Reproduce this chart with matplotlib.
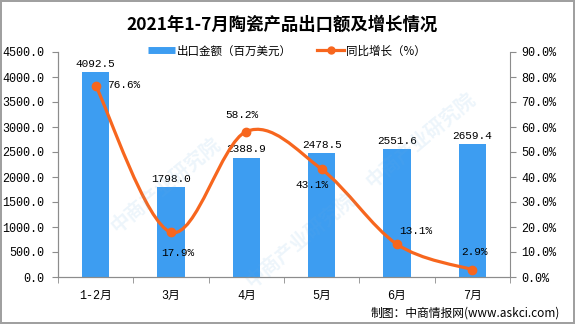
import numpy as np
import matplotlib
matplotlib.use("Agg")
import matplotlib.pyplot as plt
from matplotlib.path import Path
from matplotlib.patches import PathPatch
from matplotlib.lines import Line2D

# data
months = ['1-2月', '3月', '4月', '5月', '6月', '7月']
export_value = [4092.5, 1798.0, 2388.9, 2478.5, 2551.6, 2659.4]   # 百万美元
growth_rate = [76.6, 17.9, 58.2, 43.1, 13.1, 2.9]                 # %
left_ticks = [0, 500, 1000, 1500, 2000, 2500, 3000, 3500, 4000, 4500]
right_ticks = [0, 10, 20, 30, 40, 50, 60, 70, 80, 90]

# label offsets (points) for the growth labels
growth_offsets = [(8, 0.5, 'left'), (4.5, -15, 'center'), (-3, 12, 'center'),
                  (-7, -11.5, 'center'), (1.5, 9.5, 'left'), (1.5, 13, 'center')]

bar_color = '#3D9DF1'
line_color = '#F7661E'
axis_color = '#8C8C8C'

plt.rcParams['font.family'] = ['Liberation Mono', 'Noto Sans CJK SC', 'DejaVu Sans']
cjk = ['Noto Sans CJK SC', 'DejaVu Sans']

fig = plt.figure(figsize=(5.75, 3.24), dpi=100)
fig.patch.set_edgecolor('#A0A0A0')
fig.patch.set_linewidth(1.5)

ax = fig.add_axes([58 / 575, 47 / 324, 452 / 575, 225 / 324])
x = np.arange(len(months))
ax.bar(x, export_value, width=0.36, color=bar_color, zorder=2)
ax.set_xlim(-0.5, len(months) - 0.5)
ax.set_ylim(0, 4500)
ax.set_yticks(left_ticks)
ax.set_yticklabels([f'{v:.1f}' for v in left_ticks])
ax.set_xticks(x)
ax.set_xticklabels(months)
ax.set_xticks(np.arange(len(months) + 1) - 0.5, minor=True)
ax.tick_params(axis='x', which='major', length=0, pad=9, labelsize=8.5)
ax.tick_params(axis='x', which='minor', length=4, color=axis_color)
ax.tick_params(axis='y', length=4, pad=6, color=axis_color, labelsize=8.5)

for v, xi in zip(export_value, x):
    ax.annotate(f'{v:.1f}', (xi, v), xytext=(0, 2.5), textcoords='offset points',
                ha='center', va='bottom', fontsize=8)

ax2 = ax.twinx()
ax2.set_ylim(0, 90)
ax2.set_yticks(right_ticks)
ax2.set_yticklabels([f'{v:.1f}%' for v in right_ticks])
ax2.tick_params(axis='y', length=4, pad=4, color=axis_color, labelsize=8.5)

for a in (ax, ax2):
    a.spines['top'].set_visible(False)
    for s in ('left', 'right', 'bottom'):
        a.spines[s].set_color(axis_color)
ax.spines['right'].set_visible(False)

# smoothed line through the points (Catmull-Rom as cubic Bezier)
pts = np.column_stack([x, growth_rate]).astype(float)
ext = np.vstack([pts[0], pts, pts[-1]])
verts = [tuple(pts[0])]
codes = [Path.MOVETO]
for i in range(len(pts) - 1):
    p0, p1, p2, p3 = ext[i], ext[i + 1], ext[i + 2], ext[i + 3]
    verts += [tuple(p1 + (p2 - p0) / 6), tuple(p2 - (p3 - p1) / 6), tuple(p2)]
    codes += [Path.CURVE4] * 3
ax2.add_patch(PathPatch(Path(verts, codes), facecolor='none', edgecolor=line_color,
                        lw=2.3, zorder=3))
ax2.plot(x, growth_rate, 'o', color=line_color, ms=6, zorder=4)

for v, xi, (dx, dy, ha) in zip(growth_rate, x, growth_offsets):
    ax2.annotate(f'{v:.1f}%', (xi, v), xytext=(dx, dy), textcoords='offset points',
                 ha=ha, va='center', fontsize=8)

# title, legend, source
fig.text(282 / 575, 1 - 25 / 324, '2021年1-7月陶瓷产品出口额及增长情况',
         ha='center', va='center', fontsize=12.5, fontweight='bold', family=cjk)

handles = [Line2D([], [], color=bar_color, lw=5, solid_capstyle='butt'),
           Line2D([], [], color=line_color, lw=2.3, marker='o', ms=5)]
fig.legend(handles, ['出口金额（百万美元）', '同比增长（%）'], loc='center',
           bbox_to_anchor=(287 / 575, 1 - 51 / 324), ncol=2, frameon=False,
           prop={'family': cjk, 'size': 8.3}, handlelength=2.3,
           handletextpad=0.2, columnspacing=2.2)

fig.text(560 / 575, 1 - 313 / 324, '制图：中商情报网(www.askci.com)',
         ha='right', va='center', fontsize=8.5, family=cjk)

# faint watermark
for wx, wy in [(165, 185), (420, 140), (300, 240)]:
    fig.text(wx / 575, 1 - wy / 324, '中商产业研究院', rotation=40, ha='center',
             va='center', fontsize=14, fontweight='bold', color='#6BAEE0',
             alpha=0.12, family=cjk, zorder=10)

fig.savefig('out.png', dpi=100)
